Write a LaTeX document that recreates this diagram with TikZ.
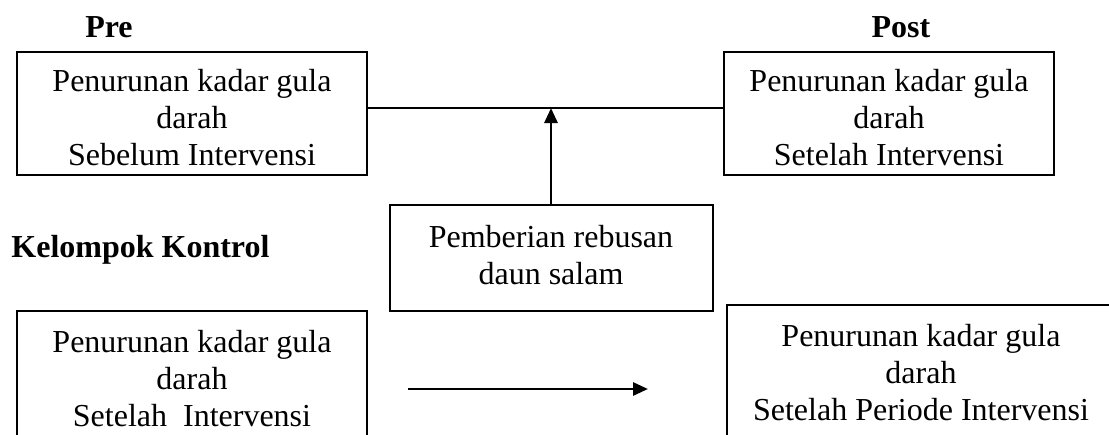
\documentclass[tikz,border=0pt]{standalone}
\usepackage{fontspec}
\setmainfont{Liberation Serif}
\usetikzlibrary{arrows.meta}
\begin{document}
\begin{tikzpicture}[x=0.5pt,y=-0.5pt,
  frame/.style={draw, line width=1pt, inner sep=0pt},
  txt/.style={align=center, inner sep=0pt, font=\fontsize{16}{18.5}\selectfont},
  box/.style={frame, txt},
  head/.style={font=\fontsize{16}{19}\selectfont\bfseries, inner sep=0pt},
  link/.style={line width=1pt},
  flow/.style={line width=1.4pt, -{Triangle[length=7.5pt,width=6.5pt]}}]
\useasboundingbox (0,0) rectangle (1109,434);
\clip (0,0) rectangle (1109,434);

% column headings
\node[head, anchor=base] (lpre)  at (109,37) {Pre};
\node[head, anchor=base] (lpost) at (901,37) {Post};
\node[head, anchor=base west] (lctrl) at (11,257) {Kelompok Kontrol};

% intervention group: frames, then their texts
\node[frame, minimum width=175pt, minimum height=61.5pt] (pre) at (192,113.5) {};
\node[txt] (pretext) at ([yshift=-2pt]pre.center)
  {Penurunan kadar gula\\darah\\Sebelum Intervensi};
\node[frame, minimum width=165pt, minimum height=61.5pt] (post) at (889,113.5) {};
\node[txt] (posttext) at ([yshift=-2pt]post.center)
  {Penurunan kadar gula\\darah\\Setelah Intervensi};
\node[frame, minimum width=161.5pt, minimum height=53pt] (treat) at (551,258) {};
\node[txt] (treattext) at ([yshift=1.5pt]treat.center)
  {Pemberian rebusan\\daun salam};

\coordinate (join) at (551,108);
\draw[link] (pre.east |- join) -- (post.west |- join);
\draw[flow] (treat.north) -- (join);

% control group
\node[box, minimum width=175pt, minimum height=68pt] (cpre) at (192,379)
  {Penurunan kadar gula\\darah\\Setelah\ \ Intervensi};
\node[box, minimum width=194pt, minimum height=67.5pt] (cpost) at (921,372.5)
  {Penurunan kadar gula\\darah\\Setelah Periode Intervensi};

\coordinate (cfrom) at (408,389);
\coordinate (cto) at (648,389);
\draw[flow] (cfrom) -- (cto);
\end{tikzpicture}
\end{document}
